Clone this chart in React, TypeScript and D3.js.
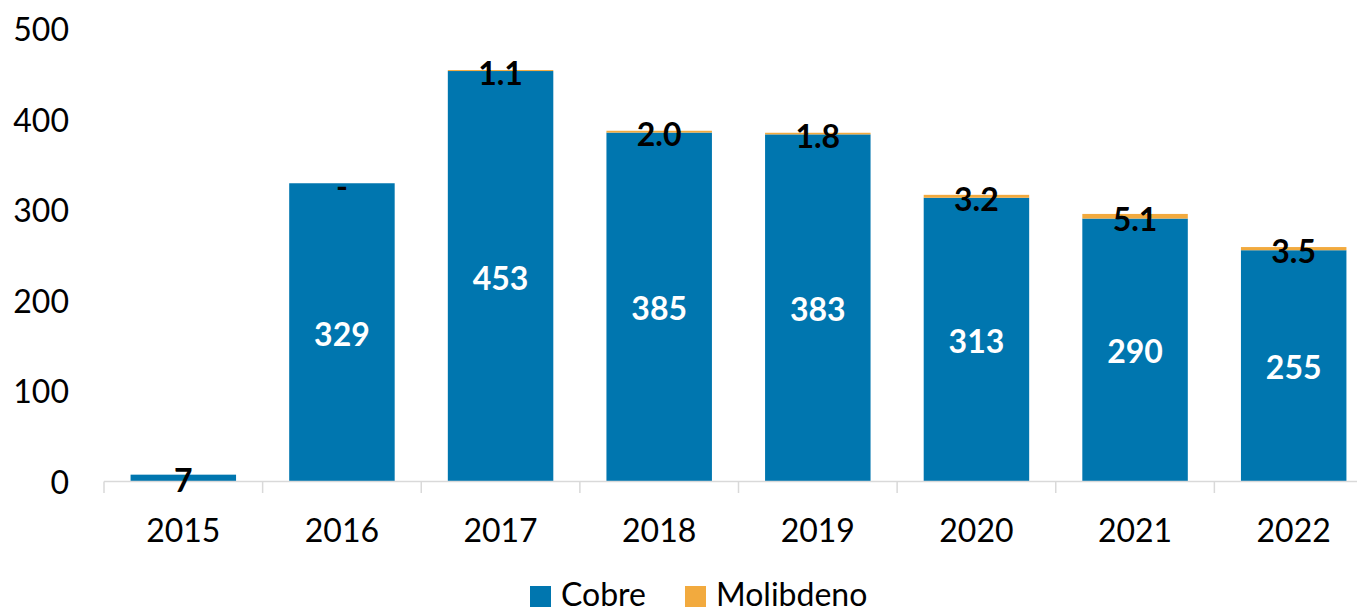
import React from "react";
import * as d3 from "d3";

const years = ["2015", "2016", "2017", "2018", "2019", "2020", "2021", "2022"];
const cobre = [7, 329, 453, 385, 383, 313, 290, 255];
const molibdeno: (number | null)[] = [null, 0, 1.1, 2.0, 1.8, 3.2, 5.1, 3.5];
const yTicks = [0, 100, 200, 300, 400, 500];
const seriesNames = ["Cobre", "Molibdeno"];
const colors = ["#0076AF", "#F2AA3E"];

const W = 1357;
const H = 614;
const FONT = "Lato, 'Open Sans', sans-serif";

export default function App() {
  const x = d3
    .scaleBand<string>()
    .domain(years)
    .range([104, 1373])
    .paddingInner(0.335)
    .paddingOuter(0.1675);
  const y = d3.scaleLinear().domain([0, 500]).range([481, 28.5]);
  const step = x.step();
  const x0 = 104;

  return (
    <svg
      width={W}
      height={H}
      style={{ position: "absolute", left: 0, top: 0, background: "#fff" }}
      fontFamily={FONT}
    >
      {yTicks.map((t) => (
        <text
          key={t}
          x={69}
          y={y(t)}
          textAnchor="end"
          dominantBaseline="central"
          fontSize={32}
          fill="#000"
        >
          {t}
        </text>
      ))}
      {years.map((yr, i) => {
        const bx = x(yr)!;
        const c = cobre[i];
        const m = molibdeno[i] ?? 0;
        return (
          <g key={yr}>
            <rect x={bx} y={y(c)} width={x.bandwidth()} height={y(0) - y(c)} fill={colors[0]} />
            {m > 0 && (
              <rect x={bx} y={y(c + m)} width={x.bandwidth()} height={y(c) - y(c + m)} fill={colors[1]} />
            )}
          </g>
        );
      })}
      <line x1={x0} x2={x0 + step * years.length} y1={481.5} y2={481.5} stroke="#D9D9D9" strokeWidth={1.5} />
      {d3.range(years.length + 1).map((i) => (
        <line
          key={i}
          x1={x0 + i * step}
          x2={x0 + i * step}
          y1={481.5}
          y2={493}
          stroke="#D9D9D9"
          strokeWidth={1.5}
        />
      ))}
      {years.map((yr) => (
        <text
          key={yr}
          x={x(yr)! + x.bandwidth() / 2}
          y={529}
          textAnchor="middle"
          dominantBaseline="central"
          fontSize={32}
          fill="#000"
        >
          {yr}
        </text>
      ))}
      {years.map((yr, i) => {
        const cx = x(yr)! + x.bandwidth() / 2;
        const c = cobre[i];
        const segH = y(0) - y(c);
        const m = molibdeno[i];
        return (
          <g key={"l" + yr}>
            <text
              x={cx}
              y={segH < 20 ? y(c / 2) + 2 : y(c / 2) + 1}
              textAnchor="middle"
              dominantBaseline="central"
              fontSize={32}
              fontWeight="bold"
              fill={segH < 20 ? "#000" : "#fff"}
            >
              {c}
            </text>
            {m !== null && (
              <text
                x={cx}
                y={y(c + m / 2) + 2}
                textAnchor="middle"
                dominantBaseline="central"
                fontSize={32}
                fontWeight="bold"
                fill="#000"
              >
                {m === 0 ? "-" : m.toFixed(1)}
              </text>
            )}
          </g>
        );
      })}
      {seriesNames.map((s, i) => {
        const lx = [530, 685][i];
        return (
          <g key={s}>
            <rect x={lx} y={586} width={21} height={21} fill={colors[i]} />
            <text x={lx + 31} y={606} fontSize={32} fill="#000">
              {s}
            </text>
          </g>
        );
      })}
    </svg>
  );
}
